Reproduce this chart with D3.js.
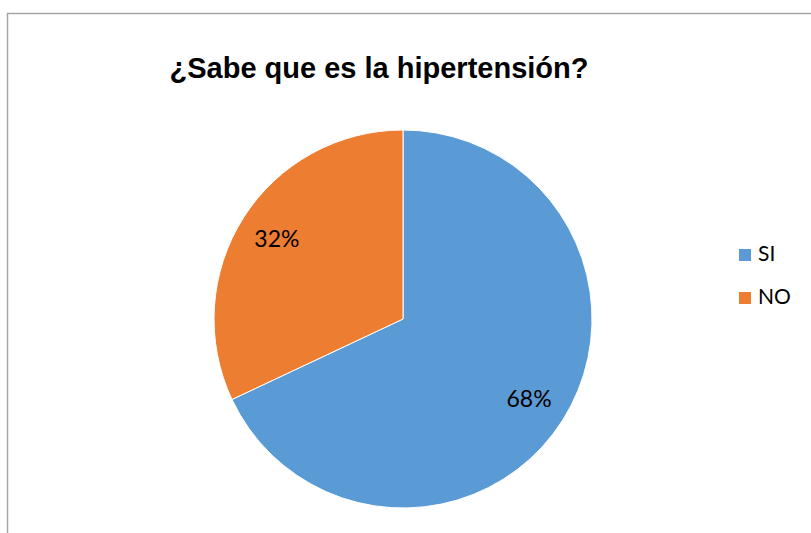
<!DOCTYPE html>
<html>
<head>
<meta charset="utf-8">
<script src="https://cdn.jsdelivr.net/npm/d3@7"></script>
<style>
  body { margin: 0; background: #fff; }
</style>
</head>
<body>
<script>
const categories = ['SI', 'NO']
const values = [68, 32]
const labels = ['68%', '32%']
const colors = ['#5B9BD5', '#ED7D31']

const width = 811
const height = 533

const svg = d3.select('body')
  .append('svg')
  .attr('width', width)
  .attr('height', height)

// chart frame (only top and left edges fall in the picture)
svg.append('rect')
  .attr('x', 7.5)
  .attr('y', 13.5)
  .attr('width', width + 10)
  .attr('height', height + 10)
  .attr('fill', 'none')
  .attr('stroke', '#a6a6a6')
  .attr('stroke-width', 1.5)

svg.append('text')
  .attr('x', 379)
  .attr('y', 78)
  .attr('text-anchor', 'middle')
  .attr('font-family', 'Liberation Sans, Arial, sans-serif')
  .attr('font-weight', 'bold')
  .attr('font-size', 29)
  .text('¿Sabe que es la hipertensión?')

const cx = 403, cy = 319, r = 189

const pie = d3.pie().sort(null).value(d => d)
const arc = d3.arc().innerRadius(0).outerRadius(r)
const labelArc = d3.arc().innerRadius(r * 0.79).outerRadius(r * 0.79)

const g = svg.append('g')
  .attr('transform', 'translate(' + cx + ',' + cy + ')')

const slices = g.selectAll('g')
  .data(pie(values))
  .enter()
  .append('g')

slices.append('path')
  .attr('d', arc)
  .attr('fill', (d, i) => colors[i])
  .attr('stroke', '#fff')
  .attr('stroke-width', 1)

slices.append('text')
  .attr('transform', d => 'translate(' + labelArc.centroid(d) + ')')
  .attr('text-anchor', 'middle')
  .attr('dy', '.35em')
  .attr('font-family', 'Lato, sans-serif')
  .attr('font-size', 23)
  .attr('fill', '#000')
  .text((d, i) => labels[i])

// legend
const legend = svg.selectAll('.legend')
  .data(categories)
  .enter()
  .append('g')
  .attr('transform', (d, i) => 'translate(739,' + (249 + i * 43) + ')')

legend.append('rect')
  .attr('width', 12)
  .attr('height', 12)
  .attr('fill', (d, i) => colors[i])

legend.append('text')
  .attr('x', 19)
  .attr('y', 12)
  .attr('font-family', 'Lato, sans-serif')
  .attr('font-size', 21)
  .text(d => d)
</script>
</body>
</html>
